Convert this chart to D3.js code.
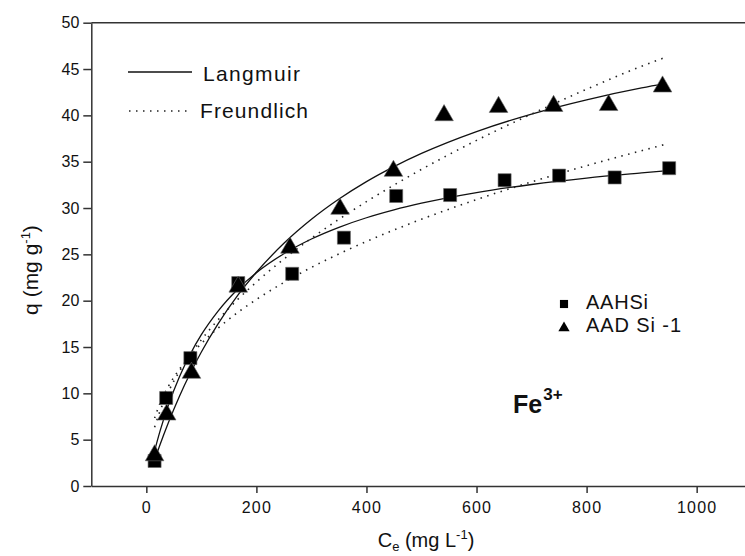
<!DOCTYPE html>
<html>
<head>
<meta charset="utf-8">
<script src="https://cdn.jsdelivr.net/npm/d3@7"></script>
<style>
  body { margin: 0; background: #fff; }
  svg text { font-family: Arial, "Liberation Sans", sans-serif; fill: #111; }
</style>
</head>
<body>
<svg id="chart" width="745" height="556"></svg>
<script>
// measured points, AAHSi (squares) and AAD Si -1 (triangles)
var ce_aahsi = [15, 36, 80, 167, 265, 359, 454, 552, 651, 750, 851, 950];
var q_aahsi  = [2.7, 9.5, 13.8, 21.9, 22.9, 26.8, 31.3, 31.4, 33.0, 33.5, 33.3, 34.3];
var ce_aad   = [15, 37, 82, 167, 261, 352, 449, 541, 640, 740, 840, 938];
var q_aad    = [3.3, 7.7, 12.2, 21.5, 25.7, 29.9, 34.0, 40.0, 40.9, 41.0, 41.1, 43.1];

// fitted isotherm curves
var ce_fit        = [15, 25, 40, 60, 80, 100, 130, 167, 200, 250, 300, 350, 400, 450, 500, 600, 700, 800, 900, 945];
var lang_aahsi    = [3.8, 5.95, 8.72, 11.77, 14.25, 16.33, 18.85, 21.29, 23.02, 25.07, 26.66, 27.92, 28.95, 29.8, 30.52, 31.67, 32.54, 33.23, 33.79, 34.03];
var lang_aad      = [2.77, 4.47, 6.82, 9.66, 12.19, 14.46, 17.47, 20.65, 23.07, 26.19, 28.78, 30.97, 32.85, 34.47, 35.89, 38.25, 40.14, 41.68, 42.96, 43.45];
var freund_aahsi  = [7.33, 8.95, 10.75, 12.59, 14.09, 15.37, 17.02, 18.77, 20.13, 21.96, 23.59, 25.05, 26.39, 27.63, 28.79, 30.91, 32.82, 34.57, 36.19, 36.9];
var freund_aad    = [6.35, 8.11, 10.16, 12.35, 14.17, 15.78, 17.91, 20.19, 22.01, 24.5, 26.74, 28.79, 30.69, 32.48, 34.17, 37.3, 40.14, 42.82, 45.3, 46.3];

var x_ticks = [0, 200, 400, 600, 800, 1000];
var x_minor = [-100, 100, 300, 500, 700, 900, 1100];
var y_ticks = [0, 5, 10, 15, 20, 25, 30, 35, 40, 45, 50];
var y_minor = [2.5, 7.5, 12.5, 17.5, 22.5, 27.5, 32.5, 37.5, 42.5, 47.5];

var svg = d3.select('#chart');
svg.append('rect').attr('width', 745).attr('height', 556).attr('fill', '#fff');

var x = d3.scaleLinear().domain([-100, 1100]).range([91.3, 751.7]);
var y = d3.scaleLinear().domain([0, 50]).range([486, 22.7]);

// axes
var gy = svg.append('g').attr('transform', 'translate(' + x(-100) + ',0)');
gy.call(d3.axisLeft(y).tickValues(y_minor).tickSize(4).tickSizeOuter(0).tickFormat(''));
gy.call(d3.axisLeft(y).tickValues(y_ticks).tickSize(8).tickSizeOuter(0).tickPadding(4).tickFormat(d3.format('d')));

var gx = svg.append('g').attr('transform', 'translate(0,' + y(0) + ')');
gx.call(d3.axisBottom(x).tickValues(x_minor).tickSize(4).tickSizeOuter(0).tickFormat(''));
gx.call(d3.axisBottom(x).tickValues(x_ticks).tickSize(7).tickSizeOuter(0).tickPadding(9).tickFormat(d3.format('d')));

svg.selectAll('.domain, .tick line').attr('stroke', '#333').attr('stroke-width', 1.5);
svg.selectAll('.tick text').attr('font-size', 16).attr('fill', '#111')
   .style('font-family', 'Arial, "Liberation Sans", sans-serif');
gx.selectAll('.tick text').attr('letter-spacing', 1.2);

// top frame line
svg.append('line')
   .attr('x1', x(-100)).attr('x2', x(1100))
   .attr('y1', y(50)).attr('y2', y(50))
   .attr('stroke', '#333').attr('stroke-width', 1.5);

// axis titles
var xt = svg.append('text').attr('x', 426).attr('y', 547).attr('text-anchor', 'middle').attr('font-size', 20);
xt.append('tspan').text('C');
xt.append('tspan').attr('font-size', 13).attr('dy', 4).text('e');
xt.append('tspan').attr('dy', -4).text(' (mg L');
xt.append('tspan').attr('font-size', 13).attr('dy', -8).text('-1');
xt.append('tspan').attr('dy', 8).text(')');

var yt = svg.append('text').attr('transform', 'translate(38,270) rotate(-90)')
   .attr('text-anchor', 'middle').attr('font-size', 21);
yt.append('tspan').text('q (mg g');
yt.append('tspan').attr('font-size', 13).attr('dy', -8).text('-1');
yt.append('tspan').attr('dy', 8).text(')');

// fit curves
function fit_line(values)
{
    return d3.line()
        .x(function(d, i) { return x(ce_fit[i]); })
        .y(function(d) { return y(d); })
        .curve(d3.curveMonotoneX)(values);
}
[lang_aahsi, lang_aad].forEach(function(v) {
    svg.append('path').attr('d', fit_line(v))
       .attr('fill', 'none').attr('stroke', '#111').attr('stroke-width', 1.3);
});
[freund_aahsi, freund_aad].forEach(function(v) {
    svg.append('path').attr('d', fit_line(v))
       .attr('fill', 'none').attr('stroke', '#222').attr('stroke-width', 1.6)
       .attr('stroke-dasharray', '1.5,5.5');
});

// markers
var square = d3.symbol().type(d3.symbolSquare).size(170);
var triangle = d3.symbol().type(d3.symbolTriangle).size(150);

svg.append('g').selectAll('path')
   .data(ce_aahsi)
   .enter()
   .append('path')
   .attr('d', square)
   .attr('transform', function(d, i) { return 'translate(' + x(d) + ',' + y(q_aahsi[i]) + ')'; })
   .attr('fill', '#000').attr('stroke', '#666').attr('stroke-width', 0.6);

svg.append('g').selectAll('path')
   .data(ce_aad)
   .enter()
   .append('path')
   .attr('d', triangle)
   .attr('transform', function(d, i) { return 'translate(' + x(d) + ',' + y(q_aad[i]) + ')'; })
   .attr('fill', '#000').attr('stroke', '#666').attr('stroke-width', 0.6);

// legend for fit lines
svg.append('line').attr('x1', 128).attr('x2', 192).attr('y1', 72).attr('y2', 72)
   .attr('stroke', '#111').attr('stroke-width', 1.5);
svg.append('text').attr('x', 203).attr('y', 81).attr('font-size', 21)
   .attr('textLength', 97).attr('lengthAdjust', 'spacing').text('Langmuir');
svg.append('line').attr('x1', 129).attr('x2', 192).attr('y1', 111).attr('y2', 111)
   .attr('stroke', '#222').attr('stroke-width', 1.6).attr('stroke-dasharray', '1.5,5.5');
svg.append('text').attr('x', 200).attr('y', 118).attr('font-size', 21)
   .attr('textLength', 108).attr('lengthAdjust', 'spacing').text('Freundlich');

// legend for samples
svg.append('path').attr('d', d3.symbol().type(d3.symbolSquare).size(66)())
   .attr('transform', 'translate(564,304)').attr('fill', '#000');
svg.append('text').attr('x', 586).attr('y', 308.5).attr('font-size', 20)
   .attr('textLength', 62).attr('lengthAdjust', 'spacing').text('AAHSi');
svg.append('path').attr('d', d3.symbol().type(d3.symbolTriangle).size(55)())
   .attr('transform', 'translate(564,328)').attr('fill', '#000');
svg.append('text').attr('x', 586).attr('y', 331.5).attr('font-size', 20)
   .attr('textLength', 95).attr('lengthAdjust', 'spacing').text('AAD Si  -1');

// ion label
var ion = svg.append('text').attr('x', 513).attr('y', 412.5).attr('font-size', 25).attr('font-weight', 'bold');
ion.append('tspan').text('Fe');
ion.append('tspan').attr('font-size', 17).attr('dy', -13).attr('dx', 1).text('3+');
</script>
</body>
</html>
